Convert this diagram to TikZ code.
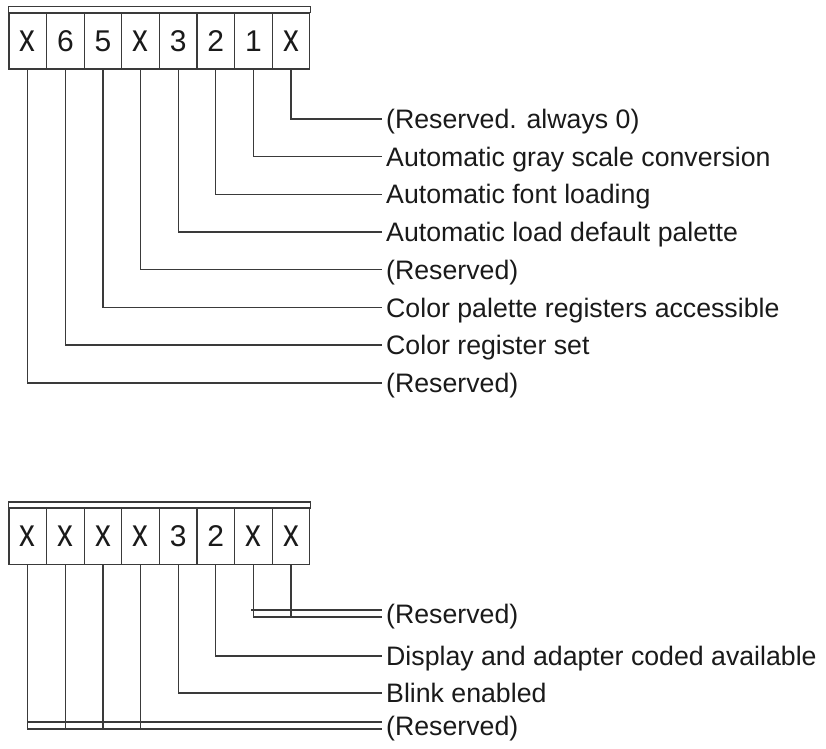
\documentclass[tikz,border=0pt]{standalone}
\usepackage{fontspec}
\setmainfont{Liberation Sans}
\usepackage{graphicx}
\usetikzlibrary{positioning, calc}
\definecolor{linegray}{HTML}{3A3A3A}
\definecolor{textgray}{HTML}{1A1A1A}
\newcommand{\bitx}{\scalebox{1.05}[1.3]{x}}
\tikzset{
  bitcell/.style={draw=linegray, line width=1.3pt, minimum width=37.6pt,
    minimum height=56pt, inner sep=0pt, text=textgray,
    font=\fontsize{30}{32}\selectfont},
  bitlabel/.style={anchor=west, inner sep=4pt, text=textgray,
    text height=19pt, text depth=0pt, font=\fontsize{26.7}{30}\selectfont},
  wire/.style={draw=linegray, line width=1.3pt}
}

\begin{document}
\begin{tikzpicture}[x=1pt, y=-1pt]
  \useasboundingbox (0,0) rectangle (826,748);
  % upper register
  \foreach \b [count=\i from 0] in {\bitx,6,5,\bitx,3,2,1,\bitx}
    \node[bitcell] (t\i) at ({9+37.6*(\i+0.5)},41) {\b};
  \draw[wire] (t0.north west) rectangle ([yshift=6pt]t7.north east);
  \node[bitlabel] (l0) at (382,119) {(Reserved. always 0)};
  \node[bitlabel] (l1) at (382,156.7) {Automatic gray scale conversion};
  \node[bitlabel] (l2) at (382,194.4) {Automatic font loading};
  \node[bitlabel] (l3) at (382,232) {Automatic load default palette};
  \node[bitlabel] (l4) at (382,269.8) {(Reserved)};
  \node[bitlabel] (l5) at (382,307.5) {Color palette registers accessible};
  \node[bitlabel] (l6) at (382,345) {Color register set};
  \node[bitlabel] (l7) at (382,383) {(Reserved)};
  \foreach \i in {0,...,7} {
    \pgfmathtruncatemacro\r{7-\i}
    \draw[wire] (t\i.south) |- (l\r.west);
  }
  % lower register
  \foreach \b [count=\i from 0] in {\bitx,\bitx,\bitx,\bitx,3,2,\bitx,\bitx}
    \node[bitcell] (b\i) at ({9+37.6*(\i+0.5)},536.5) {\b};
  \draw[wire] (b0.north west) rectangle ([yshift=6pt]b7.north east);
  \node[bitlabel] (m0) at (382,613.5) {(Reserved)};
  \node[bitlabel] (m1) at (382,656) {Display and adapter coded available};
  \node[bitlabel] (m2) at (382,693) {Blink enabled};
  \node[bitlabel] (m3) at (382,725.5) {(Reserved)};
  \coordinate (m0hi) at ([yshift=3.5pt]m0.west);
  \coordinate (m0lo) at ([yshift=-3.5pt]m0.west);
  \coordinate (m3hi) at ([yshift=3.5pt]m3.west);
  \coordinate (m3lo) at ([yshift=-3.5pt]m3.west);
  \draw[wire] (b6.south) |- (m0lo);
  \draw[wire] (b7.south) -- (b7.south |- m0lo);
  \draw[wire] ([xshift=-2pt]b6.south |- m0hi) -- (m0hi);
  \draw[wire] (b5.south) |- (m1.west);
  \draw[wire] (b4.south) |- (m2.west);
  \draw[wire] (b0.south) |- (m3lo);
  \foreach \i in {1,2,3}
    \draw[wire] (b\i.south) -- (b\i.south |- m3lo);
  \draw[wire] (b0.south |- m3hi) -- (m3hi);
\end{tikzpicture}
\end{document}
